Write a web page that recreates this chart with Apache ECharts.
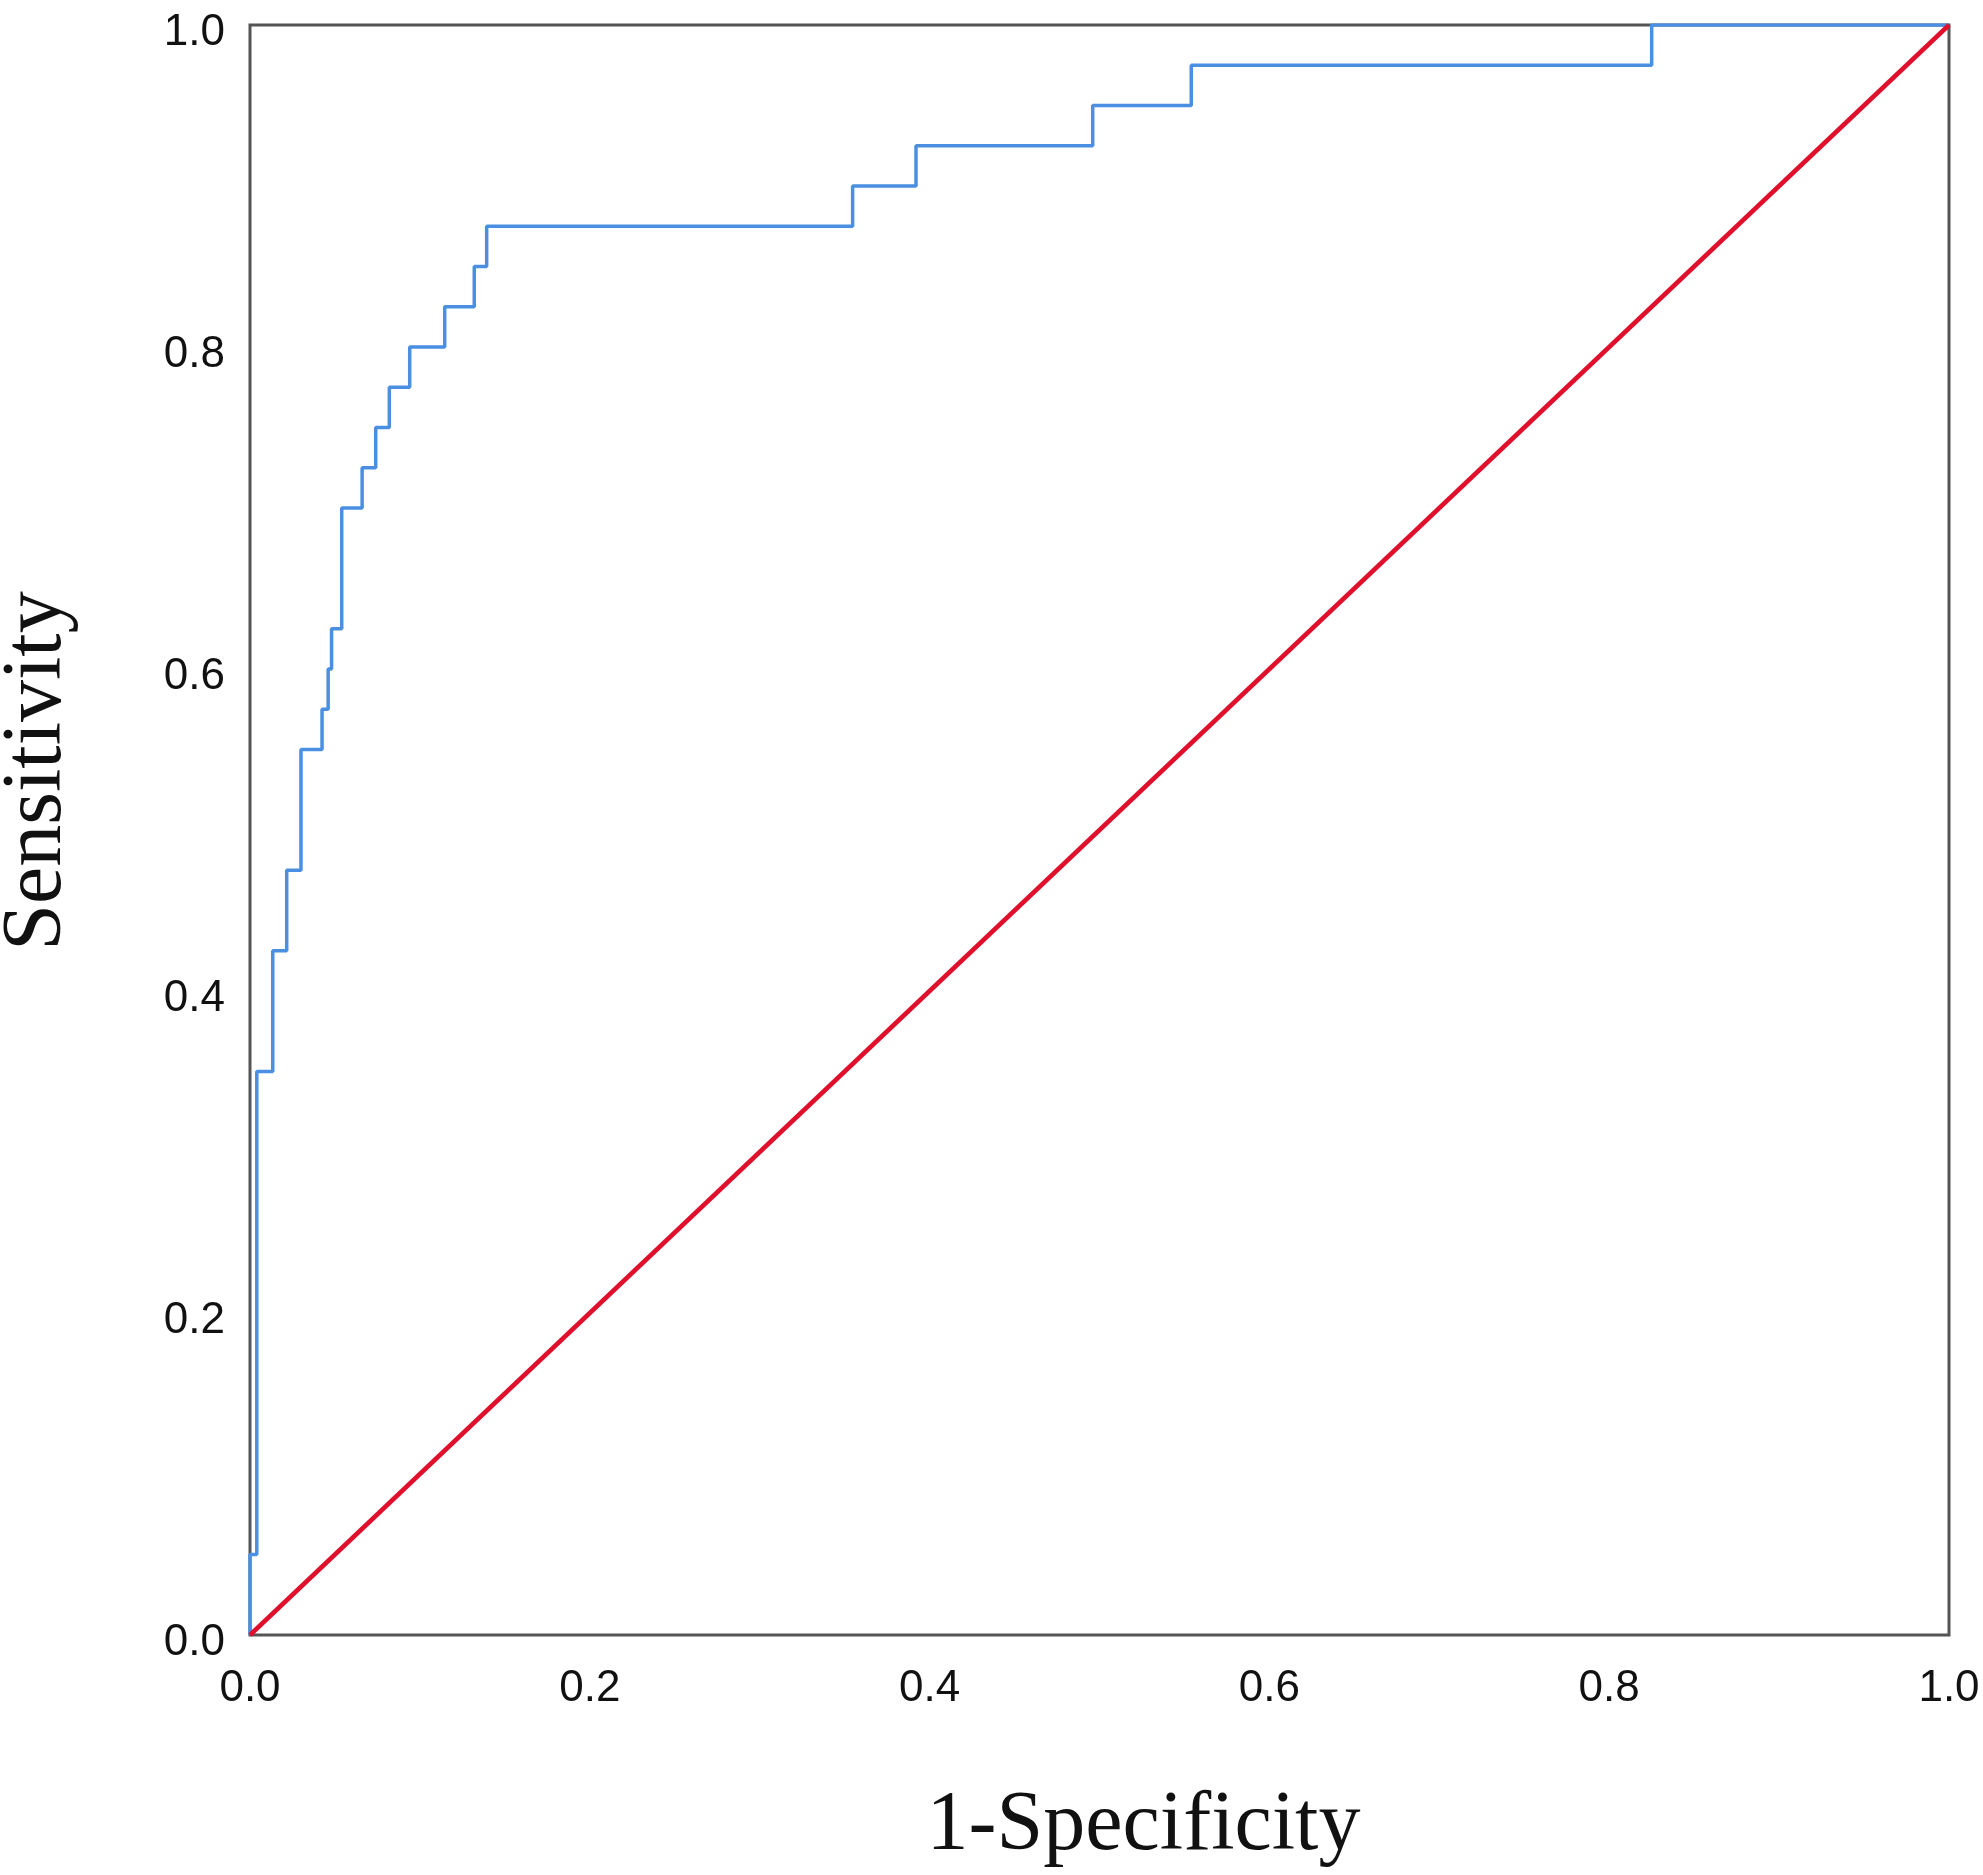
<!DOCTYPE html>
<html lang="en">

<head>
    <meta charset="utf-8">
    <title>ROC curve</title>
    <style>
        html, body {
            margin: 0;
            padding: 0;
            background: #fff;
        }
        #id-main-area {
            width: 1983px;
            height: 1875px;
        }
    </style>
</head>

<body>
    <div id="id-main-area"></div>
    <script src="https://cdn.jsdelivr.net/npm/echarts@6/dist/echarts.min.js"></script>
    <script>
        // 1-Specificity value where the curve steps up
        var riseFpr = [0, 0.004, 0.0134, 0.0216, 0.030, 0.0424, 0.046, 0.048, 0.054, 0.066, 0.074,
            0.082, 0.094, 0.1146, 0.132, 0.1393, 0.3547, 0.392, 0.496, 0.554, 0.825]
        // Sensitivity reached after each step
        var riseTpr = [0.05, 0.35, 0.425, 0.475, 0.55, 0.575, 0.60, 0.625, 0.70, 0.725, 0.75,
            0.775, 0.80, 0.825, 0.85, 0.875, 0.90, 0.925, 0.95, 0.975, 1.0]
        // reference diagonal
        var diagX = [0, 1]
        var diagY = [0, 1]
        var tickLabels = ['0.0', '0.2', '0.4', '0.6', '0.8', '1.0']

        var stepPoints = () => {
            var l = [[0, 0]]
            var prev = 0
            for (var i = 0; i < riseFpr.length; i++) {
                l.push([riseFpr[i], prev])
                l.push([riseFpr[i], riseTpr[i]])
                prev = riseTpr[i]
            }
            l.push([1, prev])
            return l
        }

        var zip = (xs, ys) => xs.map((x, i) => [x, ys[i]])

        var fmt = (v) => tickLabels[Math.round(v * 5)]

        var showChart = () => {
            var element = document.querySelector('#id-main-area')
            var myChart = echarts.init(element)
            var option = {
                animation: false,
                backgroundColor: '#fff',
                grid: {
                    left: 250,
                    right: 34,
                    top: 25,
                    bottom: 240,
                    outerBoundsMode: 'none',
                    containLabel: false,
                    show: true,
                    borderColor: '#555',
                    borderWidth: 3,
                },
                xAxis: {
                    type: 'value',
                    min: 0,
                    max: 1,
                    interval: 0.2,
                    name: '1-Specificity',
                    nameLocation: 'middle',
                    nameGap: 150,
                    nameTextStyle: {
                        fontFamily: 'Liberation Serif',
                        fontSize: 84,
                        color: '#111',
                        padding: [0, 0, 0, 88],
                    },
                    axisLine: { show: false },
                    axisTick: { show: false },
                    splitLine: { show: false },
                    axisLabel: {
                        fontFamily: 'Liberation Sans',
                        fontSize: 44,
                        color: '#111',
                        margin: 32,
                        formatter: fmt,
                    },
                },
                yAxis: {
                    type: 'value',
                    min: 0,
                    max: 1,
                    interval: 0.2,
                    name: 'Sensitivity',
                    nameLocation: 'middle',
                    nameRotate: 90,
                    nameGap: 170,
                    nameTextStyle: {
                        fontFamily: 'Liberation Serif',
                        fontSize: 84,
                        color: '#111',
                        padding: [0, 0, 0, 118],
                    },
                    axisLine: { show: false },
                    axisTick: { show: false },
                    splitLine: { show: false },
                    axisLabel: {
                        fontFamily: 'Liberation Sans',
                        fontSize: 44,
                        color: '#111',
                        margin: 25,
                        verticalAlign: 'top',
                        lineHeight: 16,
                        formatter: fmt,
                    },
                },
                series: [
                    {
                        type: 'line',
                        data: stepPoints(),
                        symbol: 'none',
                        lineStyle: { color: '#4a8fe2', width: 3.5 },
                    },
                    {
                        type: 'line',
                        data: zip(diagX, diagY),
                        symbol: 'none',
                        lineStyle: { color: '#e0102c', width: 4.5 },
                    },
                ],
            }
            myChart.setOption(option, true)
        }

        var __main = () => {
            showChart()
        }

        __main()
    </script>
</body>

</html>
